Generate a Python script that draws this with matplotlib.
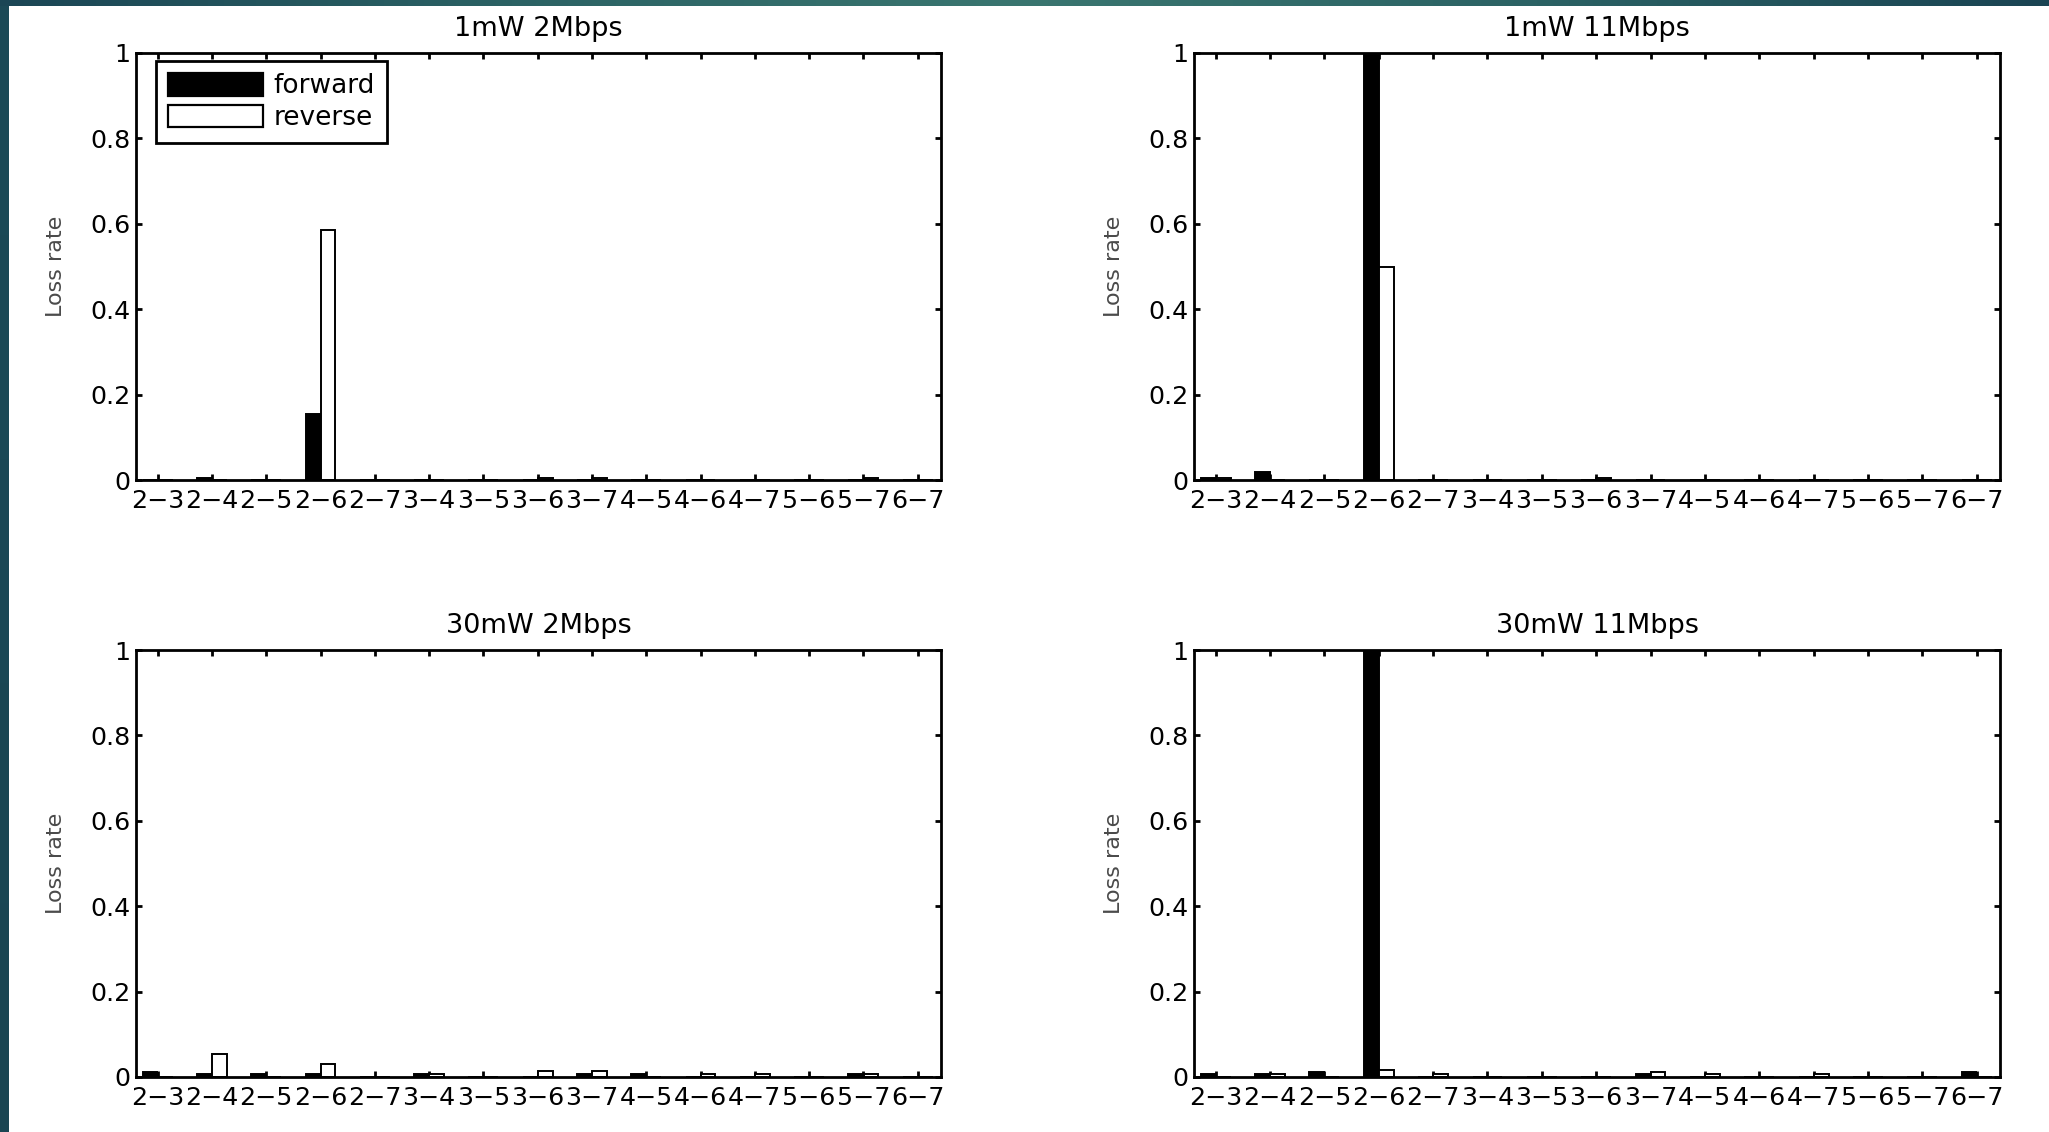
import numpy as np
import matplotlib
matplotlib.use("Agg")
import matplotlib.pyplot as plt
from matplotlib.colors import LinearSegmentedColormap
from matplotlib.patches import Patch

# Node pairs on the x axis
pairs = ['2-3', '2-4', '2-5', '2-6', '2-7', '3-4', '3-5', '3-6',
         '3-7', '4-5', '4-6', '4-7', '5-6', '5-7', '6-7']

# Loss rate per pair, forward and reverse direction
fwd_1mw_2m = [0, 0.005, 0, 0.155, 0, 0, 0, 0, 0, 0, 0, 0, 0, 0, 0]
rev_1mw_2m = [0, 0, 0, 0.585, 0, 0, 0, 0.004, 0.004, 0, 0, 0, 0, 0.004, 0]

fwd_1mw_11m = [0.004, 0.019, 0, 1.0, 0, 0, 0, 0, 0, 0, 0, 0, 0, 0, 0]
rev_1mw_11m = [0.005, 0, 0, 0.5, 0, 0, 0, 0.004, 0, 0, 0, 0, 0, 0, 0]

fwd_30mw_2m = [0.011, 0.007, 0.007, 0.007, 0, 0.007, 0, 0, 0.007, 0.007, 0, 0, 0, 0.007, 0]
rev_30mw_2m = [0, 0.055, 0, 0.030, 0, 0.007, 0, 0.014, 0.013, 0, 0.006, 0.006, 0, 0.007, 0]

fwd_30mw_11m = [0.007, 0.007, 0.012, 1.0, 0, 0, 0, 0, 0.007, 0, 0, 0, 0, 0, 0.012]
rev_30mw_11m = [0, 0.007, 0, 0.017, 0.007, 0, 0, 0, 0.012, 0.007, 0, 0.007, 0, 0, 0]

titles = ['1mW 2Mbps', '1mW 11Mbps', '30mW 2Mbps', '30mW 11Mbps']
forward_sets = [fwd_1mw_2m, fwd_1mw_11m, fwd_30mw_2m, fwd_30mw_11m]
reverse_sets = [rev_1mw_2m, rev_1mw_11m, rev_30mw_2m, rev_30mw_11m]

yticks = [0, 0.2, 0.4, 0.6, 0.8, 1]
ytick_labels = ['0', '0.2', '0.4', '0.6', '0.8', '1']

plt.rcParams['font.family'] = ['DejaVu Sans']

W, H = 2049, 1132
fig = plt.figure(figsize=(W / 100, H / 100), dpi=100)
fig.patch.set_facecolor('white')

# slide template border: gradient strip along the top and a band on the left
band = LinearSegmentedColormap.from_list(
    'band', ['#1b4655', '#2b6264', '#3a7670', '#2b6264', '#1a4453'])
ax_top = fig.add_axes([0, 1 - 6 / H, 1, 6 / H])
ax_top.imshow(np.linspace(0, 1, 512)[None, :], aspect='auto', cmap=band)
ax_top.axis('off')
ax_left = fig.add_axes([0, 0, 9 / W, 1 - 6 / H])
ax_left.imshow(np.linspace(0, 1, 256)[:, None], aspect='auto',
               cmap=LinearSegmentedColormap.from_list('lb', ['#1c4a57', '#1a4552']))
ax_left.axis('off')

# axes boxes in pixels: (left, top, right, bottom)
boxes = [(136, 53, 941, 480), (1194, 53, 2000, 480),
         (136, 650, 941, 1077), (1194, 650, 2000, 1077)]

x = np.arange(1, len(pairs) + 1)
bw = 0.27
off = 0.14

for i, (l, t, r, b) in enumerate(boxes):
    ax = fig.add_axes([l / W, 1 - b / H, (r - l) / W, (b - t) / H])
    ax.bar(x - off, forward_sets[i], width=bw, color='black',
           edgecolor='black', linewidth=1.4, zorder=2)
    ax.bar(x + off, reverse_sets[i], width=bw, color='white',
           edgecolor='black', linewidth=1.4, zorder=2)
    ax.set_xlim(0.6, 15.43)
    ax.set_ylim(0, 1)
    ax.set_xticks(x)
    ax.set_xticklabels([p.replace('-', '\u2212') for p in pairs], fontsize=18.2)
    ax.set_yticks(yticks)
    ax.set_yticklabels(ytick_labels, fontsize=18.2)
    ax.tick_params(axis='both', direction='in', top=True, right=True,
                   length=4.5, width=2.0, colors='black')
    ax.tick_params(axis='x', pad=6.5)
    ax.tick_params(axis='y', pad=4)
    for s in ax.spines.values():
        s.set_linewidth(2.0)
        s.set_zorder(3)
    ax.set_title(titles[i], fontsize=19.5, pad=12)
    ax.set_ylabel('Loss rate', fontsize=16, color='#4a4a4a')
    ax.yaxis.set_label_coords(-0.087, 0.5)

    if i == 0:
        handles = [Patch(facecolor='black', edgecolor='black', linewidth=1.6),
                   Patch(facecolor='white', edgecolor='black', linewidth=1.6)]
        leg = ax.legend(handles, ['forward', 'reverse'], loc='upper left',
                        bbox_to_anchor=(20 / 805, 1 - 8 / 427), borderaxespad=0,
                        fontsize=19, handlelength=3.6, handleheight=0.95,
                        handletextpad=0.4, labelspacing=0.2, borderpad=0.45,
                        fancybox=False, framealpha=1, edgecolor='black')
        leg.get_frame().set_linewidth(2.0)

fig.savefig('out.png', dpi=100)
